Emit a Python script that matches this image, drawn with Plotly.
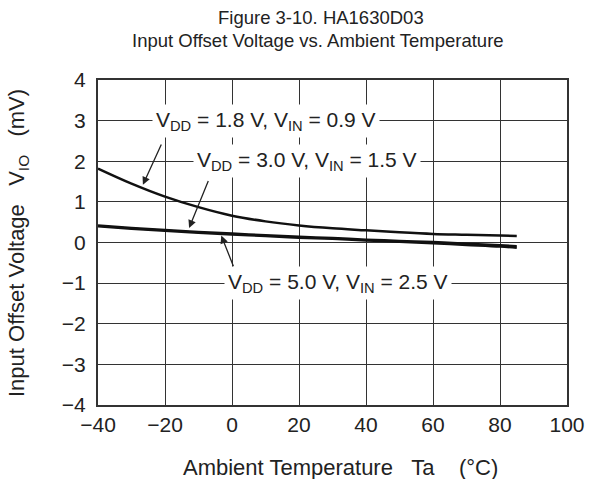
import plotly.graph_objects as go

temps = [-40, -30, -20, -10, 0, 10, 20, 30, 40, 50, 60, 70, 80, 85]
v18 = [1.82, 1.45, 1.13, 0.87, 0.66, 0.52, 0.42, 0.35, 0.30, 0.25, 0.21, 0.19, 0.17, 0.16]
v30 = [0.42, 0.36, 0.31, 0.26, 0.22, 0.18, 0.14, 0.11, 0.07, 0.04, 0.01, -0.03, -0.07, -0.09]
v50 = [0.40, 0.34, 0.29, 0.24, 0.20, 0.16, 0.12, 0.09, 0.05, 0.02, -0.02, -0.06, -0.10, -0.13]

x_ticks = [-40, -20, 0, 20, 40, 60, 80, 100]
y_ticks = [-4, -3, -2, -1, 0, 1, 2, 3, 4]

labels = [
    "V<sub>DD</sub> = 1.8 V, V<sub>IN</sub> = 0.9 V",
    "V<sub>DD</sub> = 3.0 V, V<sub>IN</sub> = 1.5 V",
    "V<sub>DD</sub> = 5.0 V, V<sub>IN</sub> = 2.5 V",
]
label_pos = [(10, 3), (22.5, 2), (31.5, -1)]
arrows = [((-20.9, 2.45), (-26.6, 1.42)),
          ((-6.9, 1.55), (-12.8, 0.36)),
          ((0.6, -0.62), (-3.2, 0.17))]

NB = "\u00a0"
font = "Liberation Sans, Arial, sans-serif"
C = "#222"
fig = go.Figure()
for ys in (v18, v30, v50):
    fig.add_trace(go.Scatter(x=temps, y=ys, mode="lines", line=dict(color="#111", width=2.5, shape="spline"),
                             showlegend=False))

for txt, (lx, ly) in zip(labels, label_pos):
    fig.add_annotation(x=lx, y=ly, xref="x", yref="y", text=txt, showarrow=False,
                       bgcolor="white", borderpad=3, font=dict(size=21, color=C, family=font))
for (tail, head) in arrows:
    fig.add_annotation(x=head[0], y=head[1], ax=tail[0], ay=tail[1], xref="x", yref="y",
                       axref="x", ayref="y", text="", showarrow=True, arrowhead=2,
                       arrowsize=1.2, arrowwidth=1.3, arrowcolor=C)

# titles (plot area: x 98..567, y 80..405 px)
def px_x(p):
    return (p - 98) / 469

def px_y(p):
    return (405 - p) / 325

fig.add_annotation(text="Figure 3-10. HA1630D03", xref="paper", yref="paper", x=px_x(321), y=px_y(17),
                   xanchor="center", yanchor="middle", showarrow=False, font=dict(size=18.5, color=C, family=font))
fig.add_annotation(text="Input Offset Voltage vs. Ambient Temperature", xref="paper", yref="paper",
                   x=px_x(318), y=px_y(41), xanchor="center", yanchor="middle", showarrow=False,
                   font=dict(size=18.5, color=C, family=font))
fig.add_annotation(text=f"Ambient Temperature{NB*3}Ta{NB*4}(°C)", xref="paper", yref="paper",
                   x=px_x(340), y=px_y(467), xanchor="center", yanchor="middle", showarrow=False,
                   font=dict(size=22, color=C, family=font))
fig.add_annotation(text=f"Input Offset Voltage{NB*3}V<sub>IO</sub>{NB*3}(mV)", xref="paper", yref="paper",
                   x=px_x(18), y=px_y(243), xanchor="center", yanchor="middle", showarrow=False, textangle=-90,
                   font=dict(size=22, color=C, family=font))

fig.update_layout(
    width=606, height=479,
    margin=dict(l=98, r=39, t=80, b=74, autoexpand=False),
    paper_bgcolor="white", plot_bgcolor="white",
    font=dict(family=font, color=C),
)
fig.update_xaxes(range=[-40, 100], showgrid=True, gridcolor="#333", gridwidth=1,
                 showline=True, linecolor="#333", linewidth=2, mirror=True, zeroline=False,
                 tickfont=dict(size=21), ticks="", automargin=False,
                 tickvals=x_ticks, ticktext=[str(v).replace("-", "\u2212") for v in x_ticks])
fig.update_yaxes(range=[-4, 4], showgrid=True, gridcolor="#333", gridwidth=1,
                 showline=True, linecolor="#333", linewidth=2, mirror=True, zeroline=False,
                 tickfont=dict(size=21), ticks="", automargin=False, ticklabelstandoff=6,
                 tickvals=y_ticks, ticktext=[str(v).replace("-", "\u2212") for v in y_ticks])
fig.write_html("out.html", post_script="document.body.style.margin='0px';",
               config={"displayModeBar": False})
